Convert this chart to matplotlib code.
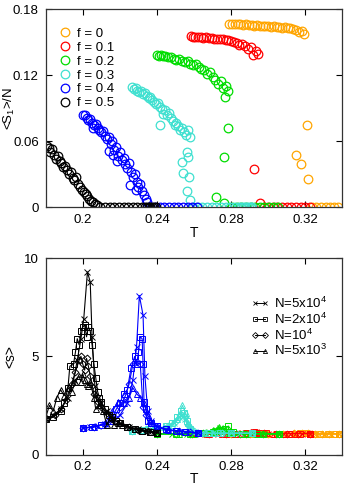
import matplotlib
matplotlib.use("Agg")
import matplotlib.pyplot as plt
from matplotlib.lines import Line2D

plt.rcParams['font.family'] = ['Liberation Sans', 'DejaVu Sans']
plt.rcParams['font.size'] = 9.5
plt.rcParams['mathtext.fontset'] = 'custom'
plt.rcParams['mathtext.rm'] = 'Liberation Sans'
plt.rcParams['mathtext.it'] = 'Liberation Sans'

# ---------------- top panel data: <S1>/N vs T ----------------
f_labels = ["f = 0", "f = 0.1", "f = 0.2", "f = 0.3", "f = 0.4", "f = 0.5"]
f_colors = ["#FFA500", "#FF0000", "#00DD00", "#40E0D0", "#0000FF", "#000000"]

T_f0 = [0.279, 0.2805, 0.282, 0.2835, 0.285, 0.2865, 0.288, 0.2895, 0.291, 0.2925, 0.294, 0.2955,
        0.297, 0.2985, 0.300, 0.3015, 0.303, 0.3045, 0.306, 0.3075, 0.309, 0.3105, 0.312, 0.3135,
        0.315, 0.3165, 0.318, 0.3195, 0.3209, 0.3152, 0.3179, 0.3214,
        0.3235, 0.326, 0.3285, 0.331, 0.3335, 0.3355, 0.3375]
S_f0 = [0.1668, 0.1662, 0.1665, 0.1660, 0.1662, 0.1657, 0.1660, 0.1655, 0.1656, 0.1650, 0.1653, 0.1647,
        0.1650, 0.1643, 0.1646, 0.1640, 0.1642, 0.1636, 0.1638, 0.1630, 0.1634, 0.1626, 0.1628, 0.1618,
        0.1612, 0.1590, 0.1600, 0.1575, 0.0747, 0.0475, 0.0393, 0.0254,
        0, 0, 0, 0, 0, 0, 0]

T_f1 = [0.2585, 0.2595, 0.2605, 0.262, 0.2635, 0.265, 0.2665, 0.268, 0.2695, 0.271, 0.2725, 0.274,
        0.2755, 0.277, 0.2785, 0.280, 0.2815, 0.283, 0.2845, 0.286, 0.2875, 0.289, 0.2905, 0.292,
        0.2935, 0.2945, 0.2924, 0.2955,
        0.2975, 0.300, 0.3025, 0.305, 0.3075, 0.310, 0.3125, 0.315, 0.3175, 0.320, 0.3225]
S_f1 = [0.1552, 0.1548, 0.1550, 0.1545, 0.1547, 0.1540, 0.1543, 0.1536, 0.1538, 0.1530, 0.1532, 0.1524,
        0.1527, 0.1518, 0.1515, 0.1508, 0.1500, 0.1495, 0.1478, 0.1485, 0.1462, 0.1440, 0.1452, 0.1385,
        0.1420, 0.1395, 0.0345, 0.0042,
        0, 0, 0, 0, 0, 0, 0, 0, 0, 0, 0]

T_f2 = [0.2400, 0.2410, 0.2420, 0.2430, 0.2445, 0.2460, 0.2475, 0.249, 0.2505, 0.252, 0.2535, 0.255,
        0.2565, 0.258, 0.2595, 0.261, 0.2625, 0.264, 0.2655, 0.267, 0.2685, 0.270, 0.2715, 0.273,
        0.2745, 0.2755, 0.2765, 0.2775, 0.2785, 0.2782, 0.2761, 0.2720, 0.2760,
        0.2805, 0.283, 0.2855, 0.288, 0.2905, 0.293, 0.2955, 0.298, 0.3005, 0.303, 0.3055]
S_f2 = [0.1382, 0.1375, 0.1380, 0.1370, 0.1372, 0.1362, 0.1365, 0.1350, 0.1340, 0.1345, 0.1328, 0.1320,
        0.1330, 0.1305, 0.1290, 0.1300, 0.1275, 0.1260, 0.1245, 0.1215, 0.1230, 0.1180, 0.1160, 0.1120,
        0.1150, 0.1080, 0.1000, 0.1100, 0.1060, 0.0723, 0.0460, 0.0096, 0.0040,
        0, 0, 0, 0, 0, 0, 0, 0, 0, 0, 0]

T_f3 = [0.2263, 0.2275, 0.2285, 0.2295, 0.2305, 0.2315, 0.2325, 0.2335, 0.2345, 0.2355, 0.2365, 0.2375,
        0.2385, 0.2395, 0.2405, 0.2415, 0.2425, 0.2435, 0.2445, 0.2455, 0.2465, 0.2475, 0.2485, 0.2495,
        0.2505, 0.2515, 0.2525, 0.2535, 0.2545, 0.2555, 0.2565, 0.2578, 0.2418,
        0.2560, 0.2533, 0.2565, 0.2540, 0.2572, 0.2560, 0.2578,
        0.2595, 0.262, 0.2645, 0.267, 0.2695, 0.272, 0.2745, 0.277, 0.2795, 0.282, 0.2845,
        0.2855, 0.2865, 0.2875, 0.2885, 0.2895, 0.2905, 0.2915]
S_f3 = [0.1090, 0.1075, 0.1082, 0.1060, 0.1050, 0.1055, 0.1030, 0.1040, 0.1010, 0.0990, 0.1000, 0.0975,
        0.0960, 0.0935, 0.0945, 0.0910, 0.0890, 0.0850, 0.0880, 0.0840, 0.0860, 0.0810, 0.0780, 0.0750,
        0.0765, 0.0740, 0.0700, 0.0720, 0.0680, 0.0655, 0.0700, 0.0640, 0.0747,
        0.0505, 0.0414, 0.0459, 0.0309, 0.0278, 0.0151, 0.0066,
        0, 0, 0, 0, 0, 0, 0, 0, 0, 0, 0,
        0, 0, 0, 0, 0, 0, 0]

T_f4 = [0.2000, 0.2010, 0.2020, 0.2030, 0.2040, 0.2050, 0.2060, 0.2070, 0.2080, 0.2090, 0.2100, 0.2110,
        0.2120, 0.2130, 0.2140, 0.2150, 0.2160, 0.2170, 0.2180, 0.2190, 0.2200, 0.2210, 0.2220, 0.2230,
        0.2240, 0.2250, 0.2260, 0.2270, 0.2280, 0.2290, 0.2300, 0.2310, 0.2320, 0.2330, 0.2340, 0.2347,
        0.2055, 0.2140, 0.2165, 0.2185, 0.2255, 0.2285,
        0.2365, 0.239, 0.2415, 0.244, 0.2465, 0.249, 0.2515, 0.254, 0.2565, 0.259, 0.2615]
S_f4 = [0.0840, 0.0835, 0.0815, 0.0790, 0.0800, 0.0770, 0.0745, 0.0760, 0.0720, 0.0700, 0.0680, 0.0690,
        0.0650, 0.0620, 0.0640, 0.0580, 0.0600, 0.0520, 0.0550, 0.0470, 0.0500, 0.0430, 0.0450, 0.0390,
        0.0360, 0.0400, 0.0320, 0.0280, 0.0300, 0.0230, 0.0190, 0.0210, 0.0150, 0.0110, 0.0080, 0.0050,
        0.0720, 0.0510, 0.0480, 0.0420, 0.0200, 0.0160,
        0, 0, 0, 0, 0, 0, 0, 0, 0, 0, 0]

T_f5 = [0.1805, 0.1815, 0.1825, 0.1835, 0.1845, 0.1855, 0.1865, 0.1875, 0.1885, 0.1895, 0.1905, 0.1915,
        0.1925, 0.1935, 0.1945, 0.1955, 0.1965, 0.1975, 0.1985, 0.1995, 0.2005, 0.2015, 0.2025, 0.2035,
        0.2045, 0.2055, 0.2065, 0.2075,
        0.2095, 0.212, 0.2145, 0.217, 0.2195, 0.222, 0.2245, 0.227, 0.2295, 0.232, 0.2335, 0.2345,
        0.2355, 0.2365, 0.2375, 0.2385, 0.2395]
S_f5 = [0.0560, 0.0540, 0.0500, 0.0530, 0.0480, 0.0440, 0.0470, 0.0420, 0.0400, 0.0370, 0.0380, 0.0340,
        0.0300, 0.0320, 0.0270, 0.0250, 0.0280, 0.0210, 0.0190, 0.0160, 0.0140, 0.0120, 0.0100, 0.0080,
        0.0060, 0.0050, 0.0030, 0.0020,
        0, 0, 0, 0, 0, 0, 0, 0, 0, 0, 0, 0,
        0, 0, 0, 0, 0]

top_T = [T_f0, T_f1, T_f2, T_f3, T_f4, T_f5]
top_S = [S_f0, S_f1, S_f2, S_f3, S_f4, S_f5]

# ---------------- bottom panel data: <s> vs T ----------------
N_labels = ["N=5x10$^4$", "N=2x10$^4$", "N=10$^4$", "N=5x10$^3$"]
N_markers = ["x", "s", "D", "^"]

# f = 0.5 (black)
b5_T_a = [0.180, 0.184, 0.188, 0.192, 0.195, 0.197, 0.199, 0.2005, 0.2025, 0.204, 0.205, 0.2065,
          0.208, 0.210, 0.213, 0.216, 0.220, 0.225, 0.230, 0.235, 0.240]
b5_S_a = [1.8, 2.0, 2.3, 2.9, 3.8, 4.8, 5.9, 6.9, 9.3, 8.8, 6.0, 3.5, 2.9, 2.6, 2.2, 1.8, 1.6, 1.4,
          1.3, 1.2, 1.15]
b5_T_b = [0.180, 0.184, 0.188, 0.190, 0.192, 0.193, 0.195, 0.196, 0.197, 0.198, 0.199, 0.200, 0.201,
          0.202, 0.203, 0.204, 0.205, 0.206, 0.207, 0.208, 0.209, 0.210, 0.212, 0.214, 0.216, 0.218,
          0.220, 0.224, 0.228, 0.232, 0.236, 0.240]
b5_S_b = [1.8, 1.9, 2.2, 2.6, 3.4, 4.5, 4.6, 5.2, 5.9, 5.6, 6.3, 6.5, 6.6, 6.0, 6.5, 6.3, 5.6, 4.6,
          3.9, 3.2, 2.9, 2.7, 2.3, 2.0, 1.9, 1.7, 1.6, 1.4, 1.3, 1.2, 1.15, 1.1]
b5_T_c = [0.180, 0.185, 0.188, 0.191, 0.194, 0.196, 0.198, 0.199, 0.200, 0.201, 0.202, 0.203, 0.204,
          0.206, 0.208, 0.210, 0.213, 0.216, 0.220, 0.225, 0.230, 0.235, 0.240]
b5_S_c = [1.8, 2.0, 2.3, 2.8, 3.6, 4.2, 4.8, 5.0, 4.6, 4.3, 4.9, 4.5, 4.0, 3.1, 2.7, 2.4, 2.1, 1.8,
          1.6, 1.4, 1.25, 1.2, 1.1]
b5_T_d = [0.180, 0.182, 0.184, 0.186, 0.188, 0.190, 0.192, 0.194, 0.196, 0.198, 0.199, 0.200, 0.201,
          0.202, 0.203, 0.204, 0.206, 0.207, 0.209, 0.211, 0.213, 0.215, 0.217, 0.219, 0.221, 0.224,
          0.228, 0.232, 0.236, 0.240]
b5_S_d = [1.9, 2.5, 2.2, 2.9, 3.3, 3.0, 3.4, 3.2, 3.7, 4.0, 3.7, 4.1, 3.8, 3.6, 3.5, 3.7, 2.9, 2.3,
          2.5, 2.2, 1.5, 1.9, 1.5, 1.6, 1.5, 1.4, 1.3, 1.2, 1.15, 1.1]

# f = 0.4 (blue)
b4_T_a = [0.200, 0.204, 0.208, 0.212, 0.216, 0.220, 0.224, 0.227, 0.229, 0.2305, 0.2325, 0.2335,
          0.235, 0.237, 0.240, 0.245, 0.250, 0.255, 0.262]
b4_S_a = [1.35, 1.4, 1.45, 1.55, 1.7, 2.0, 2.6, 3.8, 5.5, 8.1, 7.1, 4.0, 2.2, 1.7, 1.4, 1.25, 1.2,
          1.15, 1.1]
b4_T_b = [0.200, 0.205, 0.210, 0.215, 0.218, 0.220, 0.222, 0.224, 0.226, 0.228, 0.229, 0.230, 0.231,
          0.232, 0.2325, 0.233, 0.234, 0.235, 0.237, 0.240, 0.245, 0.250, 0.255, 0.262]
b4_S_b = [1.35, 1.4, 1.5, 1.7, 2.3, 2.6, 3.1, 3.3, 4.4, 5.0, 4.6, 5.2, 6.0, 5.9, 4.6, 2.7, 2.3, 1.7,
          1.6, 1.45, 1.3, 1.2, 1.15, 1.1]
b4_T_c = [0.200, 0.206, 0.212, 0.217, 0.220, 0.223, 0.225, 0.227, 0.229, 0.231, 0.2325, 0.234, 0.236,
          0.240, 0.246, 0.252, 0.258, 0.262]
b4_S_c = [1.35, 1.4, 1.55, 1.9, 2.4, 3.0, 3.6, 4.6, 4.7, 4.6, 2.4, 2.0, 1.6, 1.4, 1.25, 1.2, 1.15, 1.1]
b4_T_d = [0.200, 0.206, 0.212, 0.216, 0.219, 0.222, 0.225, 0.227, 0.229, 0.231, 0.233, 0.235, 0.238,
          0.240, 0.246, 0.252, 0.262]
b4_S_d = [1.35, 1.4, 1.6, 2.2, 2.7, 2.6, 2.9, 3.4, 3.1, 2.9, 2.6, 2.0, 1.6, 1.4, 1.25, 1.2, 1.1]

# f = 0.3 (cyan)
b3_T_a = [0.2265, 0.232, 0.236, 0.240, 0.245, 0.249, 0.252, 0.2535, 0.255, 0.257, 0.260, 0.265,
          0.270, 0.275, 0.280, 0.285, 0.291]
b3_S_a = [1.2, 1.25, 1.3, 1.3, 1.4, 1.6, 1.9, 2.0, 1.8, 1.4, 1.15, 1.08, 1.08, 1.08, 1.08, 1.08, 1.08]
b3_T_b = [0.2265, 0.232, 0.236, 0.240, 0.245, 0.248, 0.251, 0.253, 0.2545, 0.256, 0.258, 0.262,
          0.268, 0.274, 0.280, 0.291]
b3_S_b = [1.2, 1.25, 1.3, 1.3, 1.45, 1.6, 1.9, 2.2, 2.1, 1.7, 1.3, 1.1, 1.08, 1.08, 1.08, 1.08]
b3_T_c = [0.2265, 0.234, 0.240, 0.246, 0.250, 0.253, 0.255, 0.257, 0.260, 0.266, 0.275, 0.291]
b3_S_c = [1.2, 1.28, 1.3, 1.45, 1.7, 2.0, 1.9, 1.5, 1.2, 1.08, 1.08, 1.08]
b3_T_d = [0.2265, 0.234, 0.240, 0.244, 0.248, 0.251, 0.2537, 0.2555, 0.257, 0.259, 0.263, 0.270,
          0.280, 0.291]
b3_S_d = [1.2, 1.28, 1.3, 1.4, 1.5, 1.8, 2.5, 2.1, 1.6, 1.3, 1.1, 1.08, 1.08, 1.08]

# f = 0.2 (green)
b2_T_a = [0.240, 0.248, 0.256, 0.262, 0.268, 0.272, 0.274, 0.276, 0.279, 0.283, 0.290, 0.298, 0.306]
b2_S_a = [1.05, 1.05, 1.05, 1.1, 1.15, 1.25, 1.35, 1.25, 1.1, 1.05, 1.05, 1.05, 1.05]
b2_T_b = [0.240, 0.250, 0.258, 0.264, 0.270, 0.274, 0.2765, 0.2785, 0.281, 0.286, 0.294, 0.306]
b2_S_b = [1.05, 1.05, 1.05, 1.1, 1.15, 1.2, 1.3, 1.45, 1.15, 1.05, 1.05, 1.05]
b2_T_c = [0.240, 0.250, 0.258, 0.265, 0.270, 0.273, 0.276, 0.280, 0.288, 0.297, 0.306]
b2_S_c = [1.05, 1.05, 1.05, 1.1, 1.2, 1.3, 1.2, 1.1, 1.05, 1.05, 1.05]
b2_T_d = [0.240, 0.252, 0.260, 0.266, 0.270, 0.2735, 0.2755, 0.279, 0.288, 0.297, 0.306]
b2_S_d = [1.05, 1.05, 1.05, 1.1, 1.2, 1.4, 1.3, 1.1, 1.05, 1.05, 1.05]

# f = 0.1 (red)
b1_T_a = [0.259, 0.266, 0.273, 0.280, 0.286, 0.291, 0.2935, 0.296, 0.300, 0.306, 0.312, 0.318, 0.3225]
b1_S_a = [1.05, 1.05, 1.05, 1.05, 1.08, 1.12, 1.15, 1.1, 1.07, 1.07, 1.07, 1.07, 1.07]
b1_T_b = [0.259, 0.267, 0.275, 0.282, 0.288, 0.2925, 0.295, 0.299, 0.305, 0.311, 0.317, 0.3225]
b1_S_b = [1.05, 1.05, 1.05, 1.05, 1.08, 1.15, 1.12, 1.08, 1.07, 1.07, 1.07, 1.07]
b1_T_c = [0.259, 0.268, 0.277, 0.285, 0.290, 0.294, 0.298, 0.304, 0.310, 0.316, 0.3225]
b1_S_c = [1.05, 1.05, 1.05, 1.06, 1.1, 1.12, 1.08, 1.07, 1.07, 1.07, 1.07]
b1_T_d = [0.259, 0.268, 0.277, 0.285, 0.290, 0.293, 0.297, 0.303, 0.309, 0.315, 0.3225]
b1_S_d = [1.05, 1.05, 1.05, 1.06, 1.1, 1.15, 1.08, 1.07, 1.07, 1.07, 1.07]

# f = 0 (orange)
b0_T_a = [0.280, 0.288, 0.296, 0.304, 0.310, 0.315, 0.319, 0.322, 0.326, 0.330, 0.334, 0.338]
b0_S_a = [1.05, 1.05, 1.05, 1.05, 1.07, 1.1, 1.12, 1.1, 1.05, 1.05, 1.05, 1.05]
b0_T_b = [0.280, 0.289, 0.298, 0.306, 0.312, 0.317, 0.3205, 0.324, 0.328, 0.332, 0.336, 0.338]
b0_S_b = [1.05, 1.05, 1.05, 1.05, 1.07, 1.1, 1.12, 1.07, 1.05, 1.05, 1.05, 1.05]
b0_T_c = [0.280, 0.290, 0.300, 0.308, 0.314, 0.318, 0.3215, 0.325, 0.329, 0.333, 0.338]
b0_S_c = [1.05, 1.05, 1.05, 1.05, 1.08, 1.1, 1.1, 1.06, 1.05, 1.05, 1.05]
b0_T_d = [0.280, 0.290, 0.300, 0.308, 0.314, 0.3185, 0.322, 0.325, 0.329, 0.333, 0.338]
b0_S_d = [1.05, 1.05, 1.05, 1.05, 1.08, 1.12, 1.1, 1.06, 1.05, 1.05, 1.05]

bottom = [
    [(b0_T_a, b0_S_a), (b0_T_b, b0_S_b), (b0_T_c, b0_S_c), (b0_T_d, b0_S_d)],
    [(b1_T_a, b1_S_a), (b1_T_b, b1_S_b), (b1_T_c, b1_S_c), (b1_T_d, b1_S_d)],
    [(b2_T_a, b2_S_a), (b2_T_b, b2_S_b), (b2_T_c, b2_S_c), (b2_T_d, b2_S_d)],
    [(b3_T_a, b3_S_a), (b3_T_b, b3_S_b), (b3_T_c, b3_S_c), (b3_T_d, b3_S_d)],
    [(b4_T_a, b4_S_a), (b4_T_b, b4_S_b), (b4_T_c, b4_S_c), (b4_T_d, b4_S_d)],
    [(b5_T_a, b5_S_a), (b5_T_b, b5_S_b), (b5_T_c, b5_S_c), (b5_T_d, b5_S_d)],
]

x_ticks = [0.2, 0.24, 0.28, 0.32]
x_ticklabels = ["0.2", "0.24", "0.28", "0.32"]
top_yticks = [0, 0.06, 0.12, 0.18]
top_yticklabels = ["0", "0.06", "0.12", "0.18"]
bot_yticks = [0, 5, 10]

# ---------------- figure ----------------
fig = plt.figure(figsize=(3.49, 4.87), dpi=100)
ax1 = fig.add_axes([0.131, 0.574, 0.850, 0.4075])
ax2 = fig.add_axes([0.131, 0.0667, 0.850, 0.403])

for ax in (ax1, ax2):
    ax.tick_params(direction="in", top=True, right=True, length=4, width=0.8, labelsize=9.5, pad=5)
    for sp in ax.spines.values():
        sp.set_linewidth(0.9)
        sp.set_color("#333333")
    ax.set_xlim(0.18, 0.34)
    ax.set_xticks(x_ticks)
    ax.set_xticklabels(x_ticklabels)
    ax.set_xlabel("T", fontsize=10)

for T, S, c, lab in zip(top_T, top_S, f_colors, f_labels):
    ax1.plot(T, S, linestyle="none", marker="o", markersize=6.2, markerfacecolor="none",
             markeredgecolor=c, markeredgewidth=0.9, label=lab)
ax1.set_ylim(0, 0.18)
ax1.set_yticks(top_yticks)
ax1.set_yticklabels(top_yticklabels)
ax1.set_ylabel("<S$_1$>/N", fontsize=9.5)
ax1.yaxis.set_label_coords(-0.098, 0.5)
ax1.xaxis.set_label_coords(0.5, -0.095)
ax1.legend(loc="upper left", bbox_to_anchor=(0.02, 0.945), frameon=False, handlelength=0.8,
           handletextpad=0.5, labelspacing=0.12, borderaxespad=0.2, fontsize=9.5)

msizes = [4, 4, 3.5, 4]
for series, c in zip(bottom, f_colors):
    for (T, S), m, ms in zip(series, N_markers, msizes):
        ax2.plot(T, S, color=c, linewidth=0.8, marker=m, markersize=ms, markerfacecolor="none",
                 markeredgecolor=c, markeredgewidth=0.7)
ax2.set_ylim(0, 10)
ax2.set_yticks(bot_yticks)
ax2.set_ylabel("<s>", fontsize=10)
ax2.yaxis.set_label_coords(-0.097, 0.5)
ax2.xaxis.set_label_coords(0.5, -0.09)

handles = [Line2D([0], [0], color="black", linewidth=0.7, marker=m, markersize=3,
                  markerfacecolor="none", markeredgewidth=0.6) for m in N_markers]
ax2.legend(handles, N_labels, loc="upper right", bbox_to_anchor=(0.99, 0.87), frameon=False,
           numpoints=2, handlelength=1.4, handletextpad=0.4, labelspacing=0.05, fontsize=9.5)

fig.savefig("out.png", dpi=100)
